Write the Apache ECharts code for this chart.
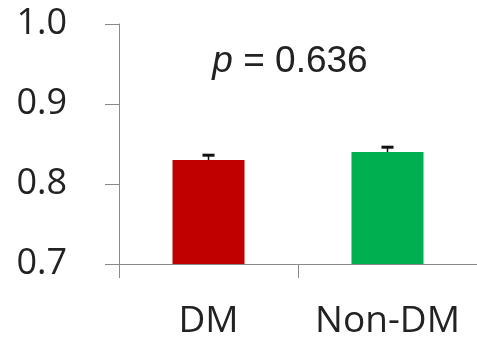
<!DOCTYPE html>
<html>
<head>
<meta charset="utf-8">
<script src="https://cdn.jsdelivr.net/npm/echarts@6/dist/echarts.min.js"></script>
<style>html,body{margin:0;padding:0;background:#fff;}#c{width:477px;height:340px;}</style>
</head>
<body>
<div id="c"></div>
<script>
var categories = ['DM', 'Non-DM'];
var means = [0.830, 0.840];
var errorTops = [0.836, 0.846];
var barColors = ['#C00000', '#00B050'];
var yTicks = [0.7, 0.8, 0.9, 1.0];
var pText = '0.636';

var chart = echarts.init(document.getElementById('c'), null, {renderer: 'canvas'});
var font = 'Open Sans';
chart.setOption({
  animation: false,
  backgroundColor: '#fff',
  title: {
    text: '{i|p} = ' + pText,
    left: 285, top: 38, textAlign: 'center',
    textStyle: {
      fontFamily: 'Liberation Sans', fontSize: 37, fontWeight: 'normal', color: '#222',
      rich: { i: { fontFamily: 'Liberation Sans', fontSize: 37, fontStyle: 'italic', color: '#222' } }
    }
  },
  grid: { left: 119, top: 24, width: 360, height: 240, containLabel: false },
  xAxis: {
    type: 'category', data: categories, boundaryGap: true,
    axisLine: { lineStyle: { color: '#8a8a8a', width: 1 } },
    axisTick: { show: true, length: 14, interval: 0, lineStyle: { color: '#8a8a8a' } },
    axisLabel: { fontFamily: font, fontSize: 37, color: '#222', margin: 39, interval: 0, hideOverlap: false }
  },
  yAxis: {
    type: 'value', min: yTicks[0], max: yTicks[yTicks.length - 1], interval: 0.1,
    splitLine: { show: false },
    axisLine: { show: true, lineStyle: { color: '#8a8a8a', width: 1 } },
    axisTick: { show: true, length: 14, lineStyle: { color: '#8a8a8a' } },
    axisLabel: { fontFamily: font, fontSize: 36, color: '#222', margin: 52,
      formatter: function (v) { return v.toFixed(1); } }
  },
  series: [
    {
      type: 'bar', barWidth: 72,
      data: means.map(function (v, i) { return { value: v, itemStyle: { color: barColors[i] } }; }),
      z: 2
    },
    {
      type: 'custom', z: 3,
      data: means.map(function (v, i) { return [i, v, errorTops[i]]; }),
      renderItem: function (params, api) {
        var base = api.coord([api.value(0), api.value(1)]);
        var top = api.coord([api.value(0), api.value(2)]);
        var hw = 6;
        return {
          type: 'group',
          children: [
            { type: 'line', shape: { x1: base[0], y1: base[1], x2: top[0], y2: top[1] },
              style: { stroke: '#111', lineWidth: 1.5 } },
            { type: 'line', shape: { x1: top[0] - hw, y1: top[1], x2: top[0] + hw, y2: top[1] },
              style: { stroke: '#111', lineWidth: 3 } }
          ]
        };
      }
    }
  ]
});
</script>
</body>
</html>
